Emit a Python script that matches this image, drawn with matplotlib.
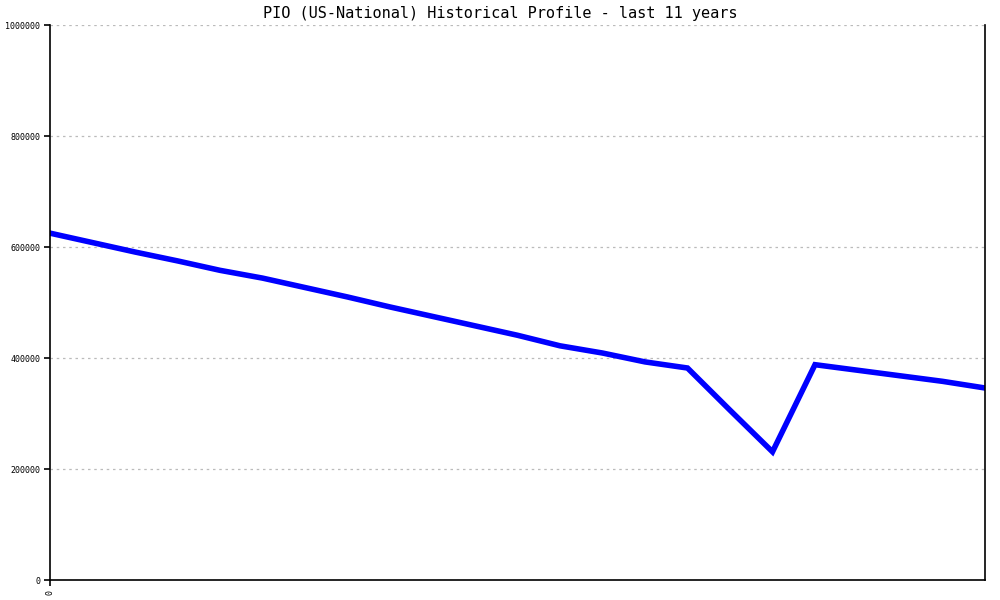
import numpy as np
import matplotlib
matplotlib.use("Agg")
import matplotlib.pyplot as plt

# half-year samples over the last 11 years
values = [625000, 608000, 591000, 575000, 558000, 544000, 527000, 510000,
          492000, 475000, 458000, 441000, 422000, 409000, 393000, 382000,
          306000, 231000, 388000, 378000, 368000, 358000, 346000]
y_ticks = [0, 200000, 400000, 600000, 800000, 1000000]
title = "PIO (US-National) Historical Profile - last 11 years"

x = np.arange(len(values))

fig = plt.figure(figsize=(10, 6), dpi=100)
ax = fig.add_axes([0.05, 0.0333, 0.935, 0.925])
ax.plot(x, values, color="#0000ff", linewidth=4.0, solid_joinstyle="miter")

ax.set_xlim(0, len(values) - 1)
ax.set_ylim(0, 1000000)
ax.set_yticks(y_ticks)
ax.set_yticklabels([str(v) for v in y_ticks], fontsize=6, family="DejaVu Sans Mono")
ax.set_xticks([0])
ax.set_xticklabels(["0"], fontsize=6, family="DejaVu Sans Mono", rotation=90)
ax.tick_params(direction="out", length=4, width=1.2, pad=3)

ax.grid(axis="y", color="#bbbbbb", linestyle=(0, (2, 3)), linewidth=0.9)
ax.set_axisbelow(True)
ax.spines["top"].set_visible(False)
for s in ["left", "bottom", "right"]:
    ax.spines[s].set_linewidth(1.2)

fig.text(0.5, 0.978, title, ha="center", va="center", fontsize=11,
         family="DejaVu Sans Mono")

fig.savefig("out.png", dpi=100)
